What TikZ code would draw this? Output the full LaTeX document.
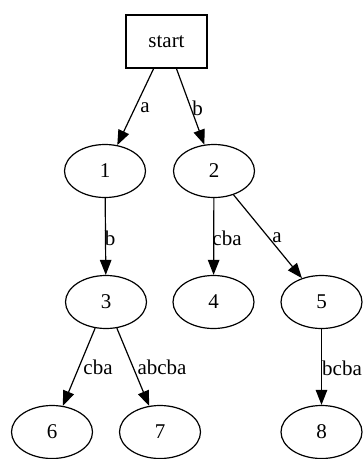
\documentclass[tikz,border=0pt]{standalone}
\usepackage{fontspec}
\setmainfont{Liberation Serif}
\usetikzlibrary{arrows.meta,shapes.geometric}
\begin{document}
\begin{tikzpicture}[x=1pt,y=-1pt,
  statenode/.style={ellipse,draw,line width=1.2pt,minimum width=81pt,minimum height=53pt,
    inner sep=0pt,font=\fontsize{21}{21}\selectfont},
  startnode/.style={rectangle,draw,line width=1.2pt,minimum width=81pt,minimum height=53pt,
    inner sep=0pt,font=\fontsize{21}{21}\selectfont},
  trans/.style={draw,line width=1.2pt,-{Triangle[length=15pt,width=11.5pt]}},
  lbl/.style={inner sep=0pt,font=\fontsize{21}{21}\selectfont}]
\useasboundingbox (0,0) rectangle (364,459);

% states
\node[startnode] (s) at (166.5,41.5) {start};
\node[statenode] (n1) at (105,171) {1};
\node[statenode] (n2) at (214,171) {2};
\node[statenode] (n3) at (106,302) {3};
\node[statenode] (n4) at (213.5,302) {4};
\node[statenode] (n5) at (321.5,302) {5};
\node[statenode] (n6) at (52,432) {6};
\node[statenode] (n7) at (160,432) {7};
\node[statenode] (n8) at (321.5,432) {8};

% transitions
\draw[trans] (s) -- (n1);
\draw[trans] (s) -- (n2);
\draw[trans] (n1) -- (n3);
\draw[trans] (n2) -- (n4);
\draw[trans] (n2) -- (n5);
\draw[trans] (n3) -- (n6);
\draw[trans] (n3) -- (n7);
\draw[trans] (n5) -- (n8);

% transition labels
\node[lbl] (la) at (145,108) {a};
\node[lbl] (lb) at (197.5,108) {b};
\node[lbl] (l13) at (110,238) {b};
\node[lbl] (l24) at (227,238) {cba};
\node[lbl] (l25) at (277,238) {a};
\node[lbl] (l36) at (98,367) {cba};
\node[lbl] (l37) at (162,367) {abcba};
\node[lbl] (l58) at (342,368) {bcba};
\end{tikzpicture}
\end{document}
